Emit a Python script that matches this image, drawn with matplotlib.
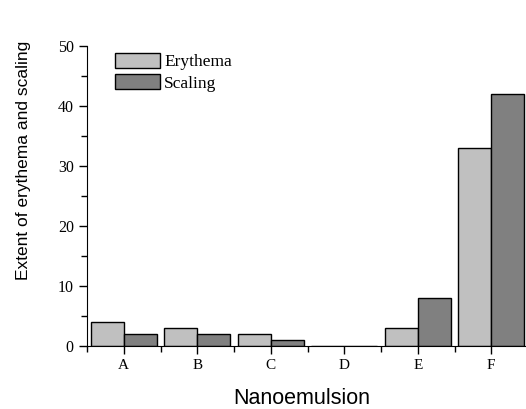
import matplotlib.pyplot as plt
import numpy as np
from matplotlib.ticker import MultipleLocator, FixedLocator

categories = ['A', 'B', 'C', 'D', 'E', 'F']
erythema = [4, 3, 2, 0, 3, 33]
scaling = [2, 2, 1, 0, 8, 42]

fig = plt.figure(figsize=(5.26, 4.09), dpi=100)
ax = fig.add_axes([87/526, 63/409, 441/526, 300/409])

x = np.arange(len(categories))
w = 0.45
ax.bar(x - w/2, erythema, w, color='#c0c0c0', edgecolor='black', linewidth=1, label='Erythema')
ax.bar(x + w/2, scaling, w, color='#808080', edgecolor='black', linewidth=1, label='Scaling')

ax.set_xlim(-0.5, 5.5)
ax.set_ylim(0, 50)
ax.spines['top'].set_visible(False)
ax.spines['right'].set_visible(False)

serif = 'Liberation Serif'
ax.set_xticks(x)
ax.set_xticklabels(categories, family=serif, fontsize=11)
ax.xaxis.set_minor_locator(FixedLocator(np.arange(-0.5, 6, 1)))
ax.yaxis.set_major_locator(MultipleLocator(10))
ax.yaxis.set_minor_locator(MultipleLocator(5))
for lab in ax.get_yticklabels():
    lab.set_family(serif)
    lab.set_fontsize(11.5)
ax.tick_params(which='major', direction='out', length=6, width=1)
ax.tick_params(which='minor', direction='out', length=4, width=1)

ax.set_xlabel('Nanoemulsion', family='Liberation Sans', fontsize=15.5)
ax.xaxis.set_label_coords(0.486, -0.14)
ax.set_ylabel('Extent of erythema and scaling', family='Liberation Sans', fontsize=12.5)
ax.yaxis.set_label_coords(-0.128, 0.62)

ax.legend(loc='upper left', bbox_to_anchor=(0.063, 0.978), frameon=False,
          prop={'family': serif, 'size': 12.5}, handlelength=2.6, handleheight=1.0,
          handletextpad=0.25, labelspacing=0.2, borderpad=0, borderaxespad=0)

fig.savefig('out.png', dpi=100)
